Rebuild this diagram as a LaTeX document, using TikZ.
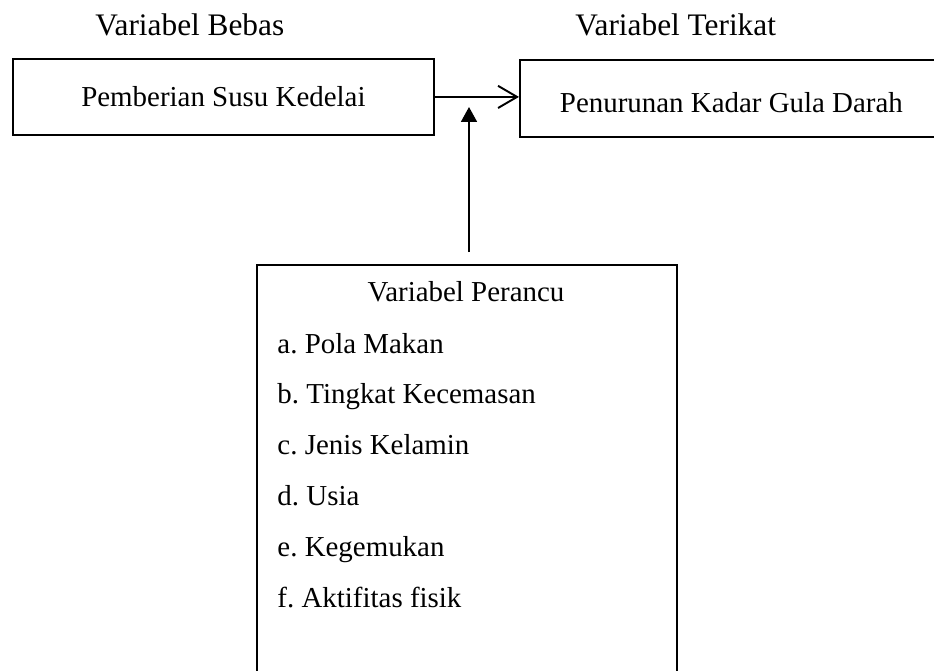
\documentclass[tikz,border=0pt]{standalone}
\usepackage{fontspec}
\setmainfont{Liberation Serif}
\usetikzlibrary{arrows.meta}
\frenchspacing

\tikzset{
  kotak/.style={draw,line width=0.8pt,rectangle,inner sep=0pt,anchor=north west},
  judul/.style={font=\fontsize{13}{15}\selectfont,anchor=base west,inner sep=0pt},
  isi/.style={font=\fontsize{12}{14}\selectfont}
}

\begin{document}
\begin{tikzpicture}[x=0.415pt,y=-0.415pt]
  \clip (0,0) rectangle (934,671);
   \coordinate (Ekor) at (469,252);
   \coordinate (Kepala) at (469,107);
   \node[judul] (bebasjudul) at (95,36) {Variabel Bebas};
   \node[judul] (terikatjudul) at (575,36) {Variabel Terikat};
   \node[kotak,isi,minimum width=174.7pt,minimum height=31.5pt] (bebas) at (12,58) {Pemberian Susu Kedelai};
   \node[kotak,isi,minimum width=175.5pt,minimum height=32pt,text height=12pt,text depth=0pt] (terikat) at (519,59) {Penurunan Kadar Gula Darah};
  \draw[line width=0.8pt,-{Straight Barb[length=7.9pt,width=9.2pt,line width=0.8pt]}] (bebas.east) -- (bebas.east -| terikat.west);
  \draw[line width=0.8pt,-{Triangle[length=6.2pt,width=6.6pt]}] (Ekor) -- (Kepala);
   \node[kotak,minimum width=174.3pt,minimum height=181pt] (perancu) at (256,264) {};
   \node[isi,anchor=base,inner sep=0pt] (perancujudul) at (466,302) {Variabel Perancu};
  \foreach \teks [count=\i from 0] in {a. Pola Makan,b. Tingkat Kecemasan,c. Jenis Kelamin,d. Usia,e. Kegemukan,f. Aktifitas fisik}{% one line per item
    \node[isi,anchor=base west,inner sep=0pt] (butir\i) at (277,353+50.8*\i) {\teks};
    }
 \end{tikzpicture}
\end{document}
